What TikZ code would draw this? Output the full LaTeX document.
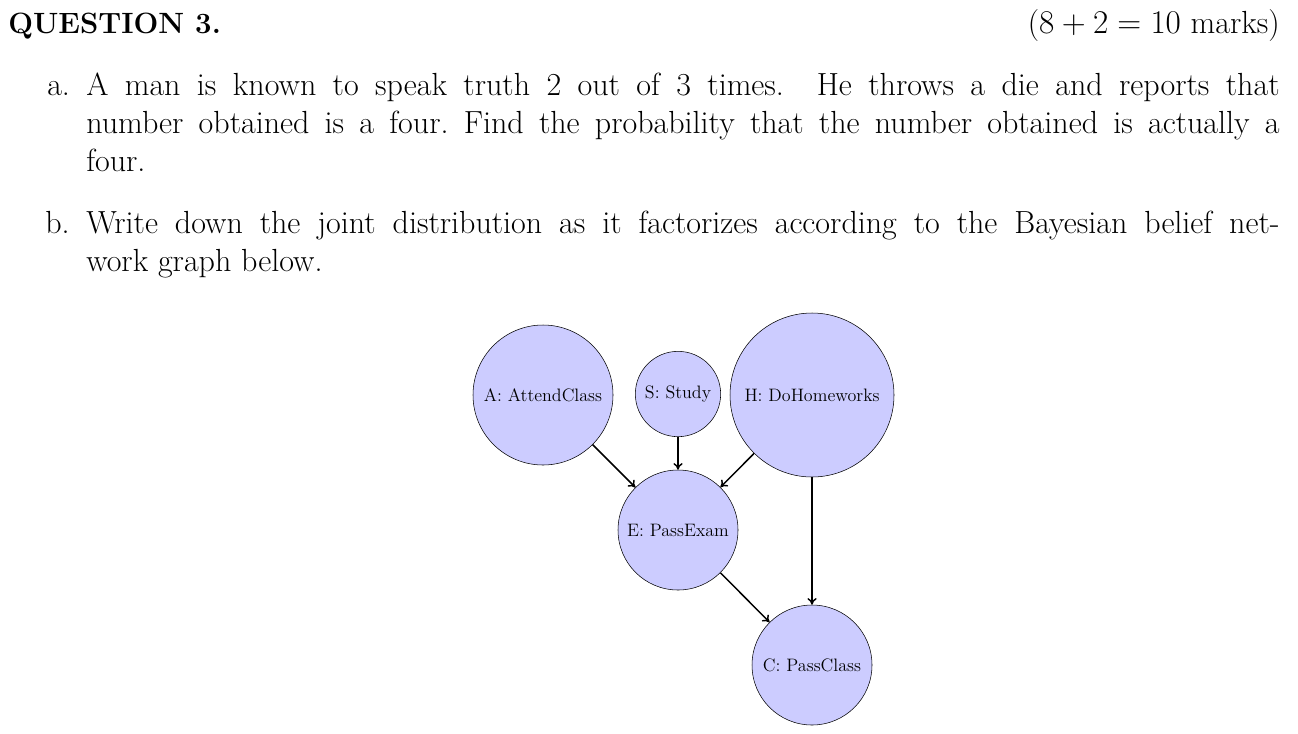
\documentclass[tikz,border=0pt]{standalone}
\usetikzlibrary{arrows.meta}
\begin{document}
\frenchspacing
\begin{tikzpicture}[x=0.75pt,y=-0.75pt,
  bn/.style={circle,draw,fill=blue!20,inner sep=0pt,font=\fontsize{13.5}{15}\selectfont},
  arr/.style={-{To[length=5pt,width=7pt]},line width=1.1pt},
  txt/.style={anchor=base west,inner sep=0pt,font=\fontsize{24}{28}\selectfont}]
\useasboundingbox (0,0) rectangle (1298,733);
\node[txt,font=\fontsize{22}{26}\selectfont] (q) at (8,33) {\textbf{QUESTION 3.}};
\node[txt,anchor=base east] (m) at (1280,33) {($8+2=10$ marks)};
\node[txt] (la) at (47,95) {a.};
\node[txt] (a1) at (86,95) {\makebox[895pt][s]{A man is known to speak truth 2 out of 3 times.\ \ He throws a die and reports that}};
\node[txt] (a2) at (86,133) {\makebox[895pt][s]{number obtained is a four. Find the probability that the number obtained is actually a}};
\node[txt] (a3) at (86,171) {four.};
\node[txt] (lb) at (45,233) {b.};
\node[txt] (b1) at (86,233) {\makebox[895pt][s]{Write down the joint distribution as it factorizes according to the Bayesian belief net-}};
\node[txt] (b2) at (86,271) {work graph below.};
\node[bn,minimum size=105pt] (A) at (543,395) {A: AttendClass};
\node[bn,minimum size=64pt] (S) at (678,394) {S: Study};
\node[bn,minimum size=123pt] (H) at (812,395) {H: DoHomeworks};
\node[bn,minimum size=90pt] (E) at (678,530) {E: PassExam};
\node[bn,minimum size=90pt] (C) at (812,665) {C: PassClass};
\draw[arr] (A) -- (E);
\draw[arr] (S) -- (E);
\draw[arr] (H) -- (E);
\draw[arr] (H) -- (C);
\draw[arr] (E) -- (C);
\end{tikzpicture}
\end{document}
